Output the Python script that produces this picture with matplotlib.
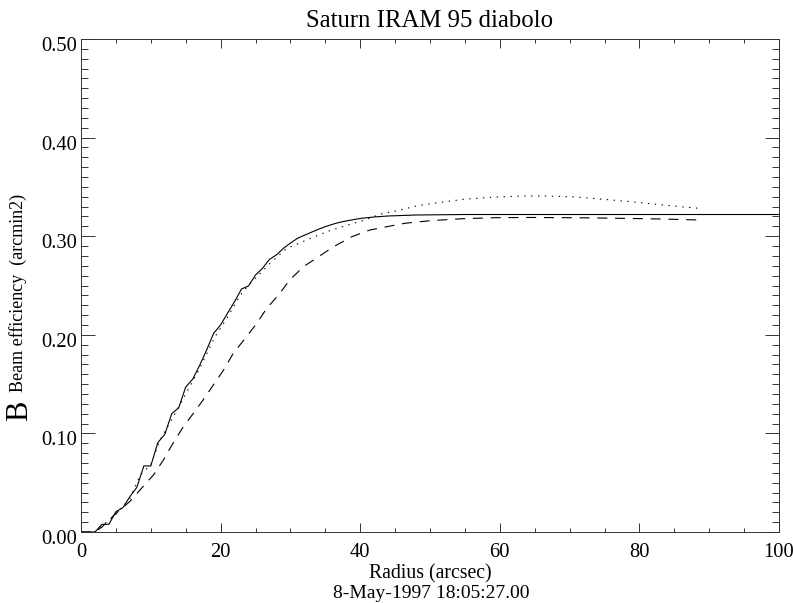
import numpy as np
import matplotlib
matplotlib.use('Agg')
from matplotlib import pyplot as plt
from matplotlib import transforms
from matplotlib.ticker import MultipleLocator, FormatStrFormatter

# solid curve (full radius range)
solidR = [0, 1, 2, 3, 4, 5, 6, 7, 8, 9, 10, 11, 12, 13, 14, 15, 16, 17, 18, 19, 20,
          21, 22, 23, 24, 25, 26, 27, 28, 29, 30, 31, 32, 33, 34, 35, 36, 37, 38,
          40, 42, 44, 48, 55, 100]
solidB = [0.0, 0.0, 0.0, 0.0078, 0.0078, 0.0206, 0.0247, 0.0358, 0.0453, 0.067, 0.067,
          0.0906, 0.099, 0.120, 0.126, 0.147, 0.155, 0.169, 0.1846, 0.2015, 0.21,
          0.222, 0.2336, 0.2465, 0.2495, 0.2606, 0.2674, 0.2765, 0.281, 0.2877, 0.293,
          0.2978, 0.301, 0.304, 0.307, 0.3097, 0.312, 0.314, 0.3155,
          0.318, 0.3195, 0.3205, 0.3215, 0.322, 0.322]

# dotted curve
dotR = [0, 2, 3, 5, 7, 8.5, 10, 11.3, 13, 15, 17, 19.2, 20.9, 22.8, 24.2, 25.9, 27.3,
        29.5, 32.3, 35.2, 38.1, 40.9, 42.8, 45.7, 48.3, 51.9, 54.8, 58.6, 63.4, 66.2,
        70.5, 74.4, 78.2, 82.0, 85.8, 88.5]
dotB = [0.0, 0.0, 0.006, 0.018, 0.034, 0.058, 0.068, 0.093, 0.114, 0.140, 0.166, 0.198,
        0.2167, 0.240, 0.252, 0.264, 0.274, 0.2877, 0.296, 0.3046, 0.311, 0.317, 0.3222,
        0.3266, 0.331, 0.3347, 0.3374, 0.3394, 0.3408, 0.3408, 0.340, 0.3377, 0.3354,
        0.3327, 0.330, 0.3283]

# dashed curve
dashR = [0, 2, 3, 4.6, 7.0, 8.45, 10.4, 11.8, 13.1, 14.5, 16.1, 17.5, 18.95, 20.4, 21.8,
         23.7, 25.2, 26.6, 28.3, 29.9, 31.85, 34.0, 36.1, 38.8, 41.4, 44.3, 46.4, 50.0,
         54.8, 59.6, 64.3, 69.1, 73.9, 78.6, 83.4, 88.7]
dashB = [0.0, 0.0, 0.005, 0.0162, 0.031, 0.0426, 0.058, 0.073, 0.089, 0.105, 0.1204,
         0.134, 0.149, 0.164, 0.181, 0.198, 0.2117, 0.2268, 0.2404, 0.2556, 0.269, 0.279,
         0.289, 0.2995, 0.3063, 0.3103, 0.3131, 0.3157, 0.3178, 0.3188, 0.319, 0.3188,
         0.3185, 0.318, 0.3174, 0.3164]

plt.rcParams['font.family'] = ['Liberation Serif', 'DejaVu Serif']

fig = plt.figure(figsize=(7.93, 6.03), dpi=100)
ax = fig.add_axes([81 / 793, 1 - 532 / 603, 698 / 793, 493 / 603])

ax.plot(solidR, solidB, color='black', lw=0.8, linestyle='-')
ax.plot(dotR, dotB, color='black', lw=0.8, linestyle=(0, (1.2, 5)))
ax.plot(dashR, dashB, color='black', lw=0.8, linestyle=(0, (9, 7)))

ax.set_xlim(0, 100)
ax.set_ylim(0, 0.5)
ax.xaxis.set_major_locator(MultipleLocator(20))
ax.xaxis.set_minor_locator(MultipleLocator(5))
ax.yaxis.set_major_locator(MultipleLocator(0.1))
ax.yaxis.set_minor_locator(MultipleLocator(0.01))
ax.yaxis.set_major_formatter(FormatStrFormatter('%.2f'))
ax.xaxis.set_major_formatter(FormatStrFormatter('%d'))

ax.tick_params(which='both', direction='in', top=True, right=True, width=0.7,
               color='#333333', labelsize=14.8)
ax.tick_params(axis='x', which='major', length=6.5, pad=8)
ax.tick_params(axis='x', which='minor', length=3.2)
ax.tick_params(axis='y', which='major', length=10, pad=3)
ax.tick_params(axis='y', which='minor', length=5)
for s in ax.spines.values():
    s.set_linewidth(0.7)
    s.set_color('#333333')

# IDL puts the y labels a little below their ticks
shift = transforms.ScaledTranslation(0, -5 / 100, fig.dpi_scale_trans)
for lab in ax.get_yticklabels():
    lab.set_transform(lab.get_transform() + shift)

fig.text(430 / 793, 1 - 21 / 603, 'Saturn IRAM 95 diabolo', ha='center', va='center', fontsize=17.8)
fig.text(430 / 793, 1 - 574 / 603, 'Radius (arcsec)', ha='center', va='center', fontsize=14.2)
fig.text(431 / 793, 1 - 593 / 603, '8-May-1997 18:05:27.00', ha='center', va='center', fontsize=14)
fig.text(18 / 793, 1 - 293 / 603, 'Beam efficiency  (arcmin2)', ha='center', va='center',
         rotation=90, fontsize=13)
fig.text(20 / 793, 1 - 411 / 603, 'B', ha='center', va='center', rotation=90, fontsize=22)

fig.savefig('out.png', dpi=100)
